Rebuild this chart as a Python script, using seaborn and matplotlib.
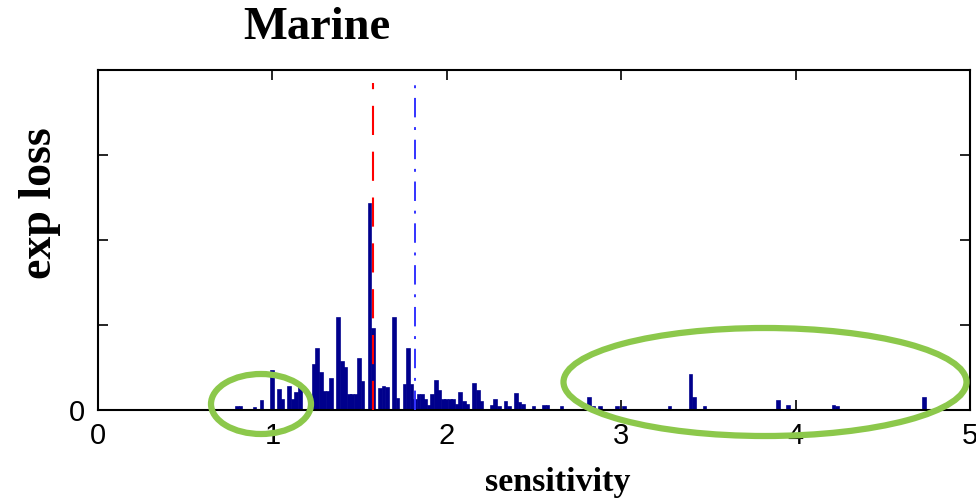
import numpy as np
import pandas as pd
import matplotlib
matplotlib.use("Agg")
import matplotlib.pyplot as plt
from matplotlib.patches import Ellipse
import seaborn as sns

# ---- data ----
bar_x = [0.80, 0.82, 0.90, 0.94, 1.00, 1.04, 1.06, 1.10, 1.12, 1.14, 1.16,
         1.24, 1.26, 1.28, 1.30, 1.32, 1.34, 1.38, 1.40, 1.42, 1.44, 1.46, 1.48,
         1.50, 1.52, 1.56, 1.58, 1.62, 1.64, 1.66, 1.70, 1.72, 1.76, 1.78, 1.80,
         1.82, 1.84, 1.86, 1.88, 1.90, 1.92, 1.94, 1.96, 1.98, 2.00, 2.02, 2.04,
         2.06, 2.08, 2.10, 2.12, 2.16, 2.18, 2.20, 2.26, 2.28, 2.30, 2.34, 2.36,
         2.40, 2.42, 2.44, 2.50, 2.56, 2.58, 2.66, 2.82, 2.84, 2.88, 2.98, 3.02,
         3.28, 3.40, 3.42, 3.48, 3.90, 3.96, 4.22, 4.24, 4.74]
bar_h = [0.03, 0.03, 0.02, 0.11, 0.46, 0.24, 0.12, 0.27, 0.12, 0.20, 0.30,
         0.53, 0.72, 0.43, 0.21, 0.21, 0.36, 1.08, 0.56, 0.49, 0.18, 0.18, 0.18,
         0.60, 0.33, 2.42, 0.95, 0.25, 0.27, 0.26, 1.08, 0.13, 0.29, 0.72, 0.30,
         0.12, 0.18, 0.18, 0.12, 0.05, 0.18, 0.34, 0.22, 0.12, 0.12, 0.12, 0.12,
         0.06, 0.20, 0.09, 0.06, 0.31, 0.22, 0.10, 0.05, 0.12, 0.04, 0.10, 0.04,
         0.19, 0.08, 0.06, 0.03, 0.05, 0.05, 0.03, 0.14, 0.03, 0.03, 0.03, 0.03,
         0.03, 0.41, 0.14, 0.03, 0.11, 0.05, 0.05, 0.03, 0.14]
red_line_x = 1.575
blue_line_x = 1.818
x_ticks = [0, 1, 2, 3, 4, 5]
y_ticks = [0, 1, 2, 3, 4]
y_tick_labels = ["0", "", "", "", ""]
title = "Marine"
x_label = "sensitivity"
y_label = "exp loss"

sns.set_style("ticks")
plt.rcParams["font.family"] = ["Liberation Sans", "DejaVu Sans"]
plt.rcParams["text.color"] = "black"

fig = plt.figure(figsize=(9.76, 5.01), dpi=100)
ax = fig.add_axes([98 / 976, 1 - 410 / 501, 872 / 976, 340 / 501])

bar_color = "#00008C"
sns.histplot(x=np.array(bar_x), weights=np.array(bar_h), binwidth=0.02,
             binrange=(0.69, 4.79), shrink=0.8,
             color=bar_color, edgecolor=bar_color, linewidth=1.2,
             alpha=1.0, ax=ax)

ax.plot([red_line_x, red_line_x], [0, 3.85], color="#FF0000", lw=1.5,
        dashes=(14, 8), zorder=3)
ax.plot([blue_line_x, blue_line_x], [0, 3.82], color="#3333FF", lw=1.4,
        dashes=(10, 5, 1.5, 5), zorder=3)

ax.set_xlim(0, 5)
ax.set_ylim(0, 4)
ax.set_xticks(x_ticks)
ax.set_xticklabels([str(t) for t in x_ticks])
ax.set_yticks(y_ticks)
ax.set_yticklabels(y_tick_labels)
ax.tick_params(direction="in", length=7, width=1.2, labelsize=21,
               top=True, right=True, colors="black", pad=9)
for s in ax.spines.values():
    s.set_visible(True)
    s.set_linewidth(1.5)
    s.set_color("black")
ax.set_xlabel("")
ax.set_ylabel("")

fig.text(317 / 976, 1 - 28 / 501, title, ha="center", va="center",
         family="Liberation Serif", fontweight="bold", fontsize=33.5,
         color="black")
fig.text(558 / 976, 1 - 482 / 501, x_label, ha="center", va="center",
         family="Liberation Serif", fontweight="bold", fontsize=24.5,
         color="black")
fig.text(40 / 976, 1 - 203 / 501, y_label, ha="center", va="center",
         rotation=90, family="Liberation Serif", fontweight="bold", fontsize=33,
         color="black")

green = "#8CC84B"
e1 = Ellipse((261 / 976, 1 - 404 / 501), 100 / 976, 60 / 501,
             transform=fig.transFigure, fill=False, edgecolor=green, lw=4.5,
             zorder=10)
e2 = Ellipse((765 / 976, 1 - 382 / 501), 403 / 976, 108 / 501,
             transform=fig.transFigure, fill=False, edgecolor=green, lw=4.5,
             zorder=10)
fig.patches.extend([e1, e2])

fig.savefig("out.png", dpi=100)
